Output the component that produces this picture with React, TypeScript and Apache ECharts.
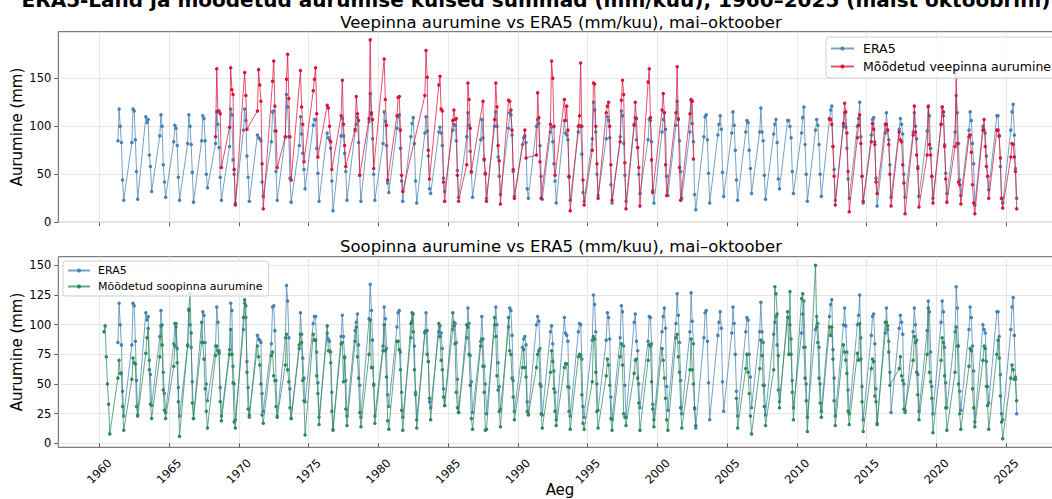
import React, { useEffect, useRef } from "react";
import * as echarts from "echarts";

const FIRST_YEAR = 1960;
const MONTHS = [5, 6, 7, 8, 9, 10];
const X_TICKS = [1960, 1965, 1970, 1975, 1980, 1985, 1990, 1995, 2000, 2005, 2010, 2015, 2020, 2025];
const TOP_Y_TICKS = [0, 50, 100, 150];
const BOTTOM_Y_TICKS = [0, 25, 50, 75, 100, 125, 150];

const SUPTITLE = "ERA5-Land ja mõõdetud aurumise kuised summad (mm/kuu), 1960–2025 (maist oktoobrini)";
const TITLE_TOP = "Veepinna aurumine vs ERA5 (mm/kuu), mai–oktoober";
const TITLE_BOTTOM = "Soopinna aurumine vs ERA5 (mm/kuu), mai–oktoober";
const NAME_ERA5 = "ERA5";
const NAME_WATER = "Mõõdetud veepinna aurumine";
const NAME_BOG = "Mõõdetud soopinna aurumine";

// May..Oct per year, 1960..2025
const ERA5: (number | null)[] = [
  null, null, null, null, null, null, // 1960
  85, 118, 100, 83, 44, 23, // 1961
  83, 118, 116, 86, 53, 24,
  110, 104, 107, 70, 58, 32,
  90, 112, 100, 60, 42, 26,
  84, 101, 98, 80, 47, 23, // 1965
  82, 112, 100, 81, 52, 21,
  85, 111, 108, 85, 50, 36,
  82, 115, 102, 78, 47, 23,
  79, 118, 112, 65, 50, 20,
  96, 118, 106, 69, 47, 22, // 1970
  91, 88, 87, 85, 42, 27,
  84, 115, 116, 95, 53, 23,
  89, 133, 120, 89, 46, 21,
  80, 110, 92, 72, 55, 35,
  101, 107, 107, 77, 51, 22, // 1975
  93, 88, 86, 77, 43, 12,
  90, 108, 90, 72, 53, 23,
  95, 102, 109, 83, 49, 22,
  105, 134, 112, 87, 50, 23,
  82, 115, 105, 80, 41, 31, // 1980
  98, 110, 112, 77, 43, 22,
  89, 103, 109, 82, 43, 20,
  93, 110, 95, 69, 35, 30,
  94, 99, 93, 80, 46, 32,
  96, 102, 101, 85, 54, 26, // 1985
  89, 114, 101, 74, 52, 26,
  86, 107, 88, 65, 50, 25,
  100, 115, 100, 68, 48, 29,
  98, 114, 112, 91, 53, 27,
  81, 88, 90, 83, 35, 25, // 1990
  100, 107, 103, 80, 48, 24,
  94, 99, 84, 61, 43, 20,
  106, 93, 91, 86, 47, 23,
  94, 101, 100, 71, 31, 22,
  87, 125, 117, 94, 50, 28, // 1995
  87, 110, 106, 88, 39, 20,
  89, 116, 111, 82, 49, 22,
  102, 109, 86, 78, 50, 30,
  86, 107, 106, 84, 33, 20,
  94, 107, 114, 97, 48, 28, // 2000
  101, 126, 108, 85, 53, 25,
  94, 127, 103, 84, 29, 13,
  89, 110, 112, 86, 51, 20,
  91, 102, 111, 97, 52, 27,
  93, 115, 101, 75, 44, 23, // 2005
  94, 106, 104, 75, 56, 30,
  94, 119, 94, 85, 49, 24,
  92, 102, 107, 83, 45, 35,
  106, 106, 100, 88, 53, 30,
  93, 109, 120, 81, 50, 22, // 2010
  96, 107, 101, 81, 50, 27,
  107, 117, 121, 79, 55, 23,
  100, 114, 99, 77, 45, 25,
  100, 108, 125, 89, 48, 20,
  91, 107, 109, 84, 46, 17, // 2015
  93, 114, 96, 86, 60, 26,
  97, 108, 102, 92, 50, 26,
  94, 114, 100, 87, 58, 27,
  95, 120, 111, 77, 48, 25,
  102, 120, 111, 81, 51, 30, // 2020
  94, 132, 114, 82, 44, 28,
  96, 115, 106, 82, 61, 18,
  100, 96, 93, 69, 48, 34,
  111, 111, 90, 58, 25, 20,
  96, 115, 123, 91, 56, 25, // 2025
];

const WATER: (number | null)[] = [
  null, null, null, null, null, null, // 1960
  null, null, null, null, null, null,
  null, null, null, null, null, null,
  null, null, null, null, null, null,
  null, null, null, null, null, null,
  null, null, null, null, null, null, // 1965
  null, null, null, null, null, null,
  null, null, null, null, null, null,
  89, 160, 116, 116, 113, 57, // 1968
  99, 161, 138, 133, 55, 18,
  null, 156, 132, 97, null, null, // 1970
  116, 159, 143, 126, 61, 14,
  null, 147, 168, 121, 95, 57,
  89, 149, 175, 129, 89, 44,
  null, 158, 120, 102, 63, null,
  137, 149, 161, 113, 68, null, // 1975
  122, 119, 100, 84, 55, null,
  111, 148, 102, 80, 58, null,
  97, 131, 113, 106, 49, null,
  108, 190, 114, 107, 56, null,
  null, 170, 128, 101, 44, null, // 1980
  111, 130, 131, 96, 49, 32,
  null, null, null, null, null, null,
  132, 179, 151, 75, 45, null,
  143, 152, 118, 116, 42, 22,
  106, 117, 107, 108, 49, 22, // 1985
  60, 145, 128, 98, 53, null,
  null, null, 126, 66, 51, 22,
  107, 145, 120, 80, 64, 19,
  127, 126, 117, 96, 55, 25,
  null, null, 96, 67, null, null, // 1990
  70, 135, 109, 63, 25, null,
  102, 168, 150, 100, 49, null,
  128, 106, 121, 96, 48, 12,
  100, 111, 166, 100, 44, 18,
  75, 145, 144, 100, 61, 25, // 1995
  114, 121, 125, 100, 60, 23,
  84, 127, 148, 133, 62, 14,
  101, 125, 108, 78, 57, 17,
  146, 160, 109, 65, 31, null,
  117, 134, 114, 60, 28, null, // 2000
  114, 162, 107, 57, 23, null,
  113, 128, 126, 66, null, null,
  null, null, null, null, null, null,
  null, null, null, null, null, null,
  null, null, null, null, null, null, // 2005
  null, null, null, null, null, null,
  null, null, null, null, null, null,
  null, null, null, null, null, null,
  null, null, null, null, null, null,
  null, null, null, null, null, null, // 2010
  null, null, null, null, null, null,
  108, 107, 102, 79, 48, 18,
  103, 124, 115, 93, 53, 11,
  88, 101, 112, 82, 48, 22,
  84, 103, 97, 81, 42, 30, // 2015
  102, 102, 96, 81, 50, 17,
  94, 86, 84, 60, 41, 9,
  91, 121, 94, 70, 56, 16,
  70, 121, 81, 70, 48, 20,
  102, 120, 115, 79, 45, 21, // 2020
  79, 158, 82, 42, 39, 19,
  89, 91, 73, 39, 20, 9,
  96, 107, 79, 58, 48, 25,
  96, 96, 90, 67, 25, 15,
  68, 82, 81, 68, 53, 14, // 2025
];

const BOG: (number | null)[] = [
  94, 99, 73, 50, 33, 8, // 1960
  55, 70, 59, 59, 31, 11,
  54, 72, 68, 67, 31, 23,
  76, 89, 97, 62, 33, 21,
  73, 99, 83, 45, 28, 21,
  65, 82, 101, 68, 35, 6, // 1965
  83, 113, 126, 93, 34, 21,
  102, 85, 71, 46, 27, 13,
  74, 82, 78, 76, 35, 19,
  75, 96, 75, 51, 18, 13,
  106, 121, 116, 60, 29, 24, // 1970
  82, 73, 66, 50, 24, 17,
  74, 77, 57, 53, 31, 22,
  66, 92, 62, 52, 30, 21,
  83, 92, 85, 53, 36, 7,
  92, 87, 87, 57, 42, 16, // 1975
  99, 78, 78, 68, 27, 11,
  84, 85, 52, 73, 29, 15,
  86, 98, 73, 55, 26, 14,
  75, 104, 64, 64, 49, 17,
  78, 100, 78, 56, 19, 12, // 1980
  86, 86, 79, 62, 28, 11,
  101, 110, 94, 62, 41, 13,
  94, 95, 75, 69, 38, 20,
  101, 90, 70, 62, 39, 32,
  110, 99, 84, 43, 30, 26, // 1985
  100, 98, 75, 49, 21, 12,
  82, 88, 65, 43, 11, 12,
  106, 90, 57, 45, 27, 14,
  106, 78, 75, 55, 39, 20,
  64, 79, 64, 56, 27, 24, // 1990
  64, 75, 78, 50, 25, 13,
  60, 78, 69, 46, 27, 15,
  64, 67, 67, 48, 27, 12,
  73, 75, 74, 41, 17, 12,
  52, 90, 88, 60, 27, 13, // 1995
  57, 71, 66, 49, 21, 11,
  73, 84, 66, 25, 22, 15,
  59, 70, 71, 55, 34, 11,
  70, 83, 82, 52, 29, 14,
  80, 70, 55, 38, 20, 11, // 2000
  89, 92, 73, 60, 30, 13,
  62, 88, 62, 50, 30, 15,
  null, null, null, null, null, null,
  null, null, null, null, null, null,
  null, null, null, null, 38, 13, // 2005
  63, 75, 60, 42, 23, 8,
  63, 87, 74, 49, 31, 15,
  62, 132, 126, 109, 74, 30,
  111, 75, 128, 75, 43, 20,
  122, 126, 81, 55, 36, 10, // 2010
  150, 98, 85, 55, 34, 22,
  98, 91, 98, 71, 36, 15,
  83, 77, 70, 59, 27, 16,
  76, 70, 101, 71, 35, 10,
  63, 71, 69, 40, 35, 16, // 2015
  102, 102, 99, 77, 49, null,
  63, 73, 57, 53, 29, 28,
  70, 90, 85, 60, 41, 20,
  75, 114, 60, 52, 38, 9,
  70, 89, 85, 57, 30, 11, // 2020
  60, 98, 82, 50, 25, 12,
  65, 80, 78, 46, 30, 14,
  70, 82, 80, 48, 32, 12,
  75, 87, 72, 40, 18, 4,
  55, 66, 62, 54, 54, 36, // 2025
];

const C_ERA5 = "#4682b4";
const C_WATER = "#dc143c";
const C_BOG = "#2e8b57";
const FONT = '"DejaVu Sans", sans-serif';

// Points from the table; a run of two or more empty years breaks the line.
function toPoints(vals: (number | null)[]) {
  const n = MONTHS.length;
  const years = Math.floor(vals.length / n);
  const out: (number | string)[][] = [];
  let emptyRun = 0;
  for (let yi = 0; yi < years; yi++) {
    const row = vals.slice(yi * n, yi * n + n);
    const year = FIRST_YEAR + yi;
    if (row.every((v) => v === null)) {
      emptyRun++;
      continue;
    }
    if (emptyRun >= 2 && out.length > 0) out.push([year, "-"]);
    emptyRun = 0;
    row.forEach((v, j) => {
      if (v === null) return;
      out.push([year + (MONTHS[j] - 1) / 12, v]);
    });
  }
  return out;
}

export default function App() {
  const ref = useRef<HTMLDivElement>(null);
  useEffect(() => {
    if (!ref.current) return;
    document.body.style.overflow = "hidden";
    const chart = echarts.init(ref.current, undefined, { renderer: "svg" });
    const gridLeft = 58.3;
    const gridW = 1003.7;
    const gridLineStyle = { color: "#e6e6e6", width: 1, type: "solid" as const };

    const xAxisBase = (gi: number, showLabel: boolean) => ({
      type: "value",
      gridIndex: gi,
      min: 1957.06,
      max: 2029.0,
      axisLine: { show: false },
      splitLine: { show: false },
      axisTick: { show: true, customValues: X_TICKS, length: 4, lineStyle: { color: "#333", width: 0.8 } },
      axisLabel: {
        show: showLabel,
        customValues: X_TICKS,
        rotate: 45,
        align: "center",
        verticalAlign: "middle",
        margin: 24,
        formatter: (v: number) => String(Math.round(v)),
        fontSize: 11.5,
        color: "#000",
        fontFamily: FONT,
      },
    });

    const lineSeries = (name: string, data: (number | string)[][], color: string, gi: number, z: number) => ({
      name,
      type: "line",
      xAxisIndex: gi,
      yAxisIndex: gi,
      data,
      z,
      connectNulls: false,
      symbol: "circle",
      symbolSize: 3.5,
      showSymbol: true,
      lineStyle: { color, width: 1, opacity: 0.75 },
      itemStyle: { color },
      emphasis: { disabled: true },
    });

    const gridSeries = (gi: number, yTicks: number[]) => ({
      type: "line",
      xAxisIndex: gi,
      yAxisIndex: gi,
      data: [],
      z: 0,
      silent: true,
      markLine: {
        z: 0,
        silent: true,
        symbol: ["none", "none"],
        label: { show: false },
        emphasis: { disabled: true },
        lineStyle: gridLineStyle,
        data: [
          ...X_TICKS.map((v) => ({ xAxis: v })),
          ...yTicks.map((v) => ({ yAxis: v })),
        ],
      },
    });

    const legendBase = {
      orient: "vertical",
      selectedMode: false,
      backgroundColor: "rgba(255,255,255,0.8)",
      borderColor: "#d0d0d0",
      borderWidth: 1,
      borderRadius: 3,
      itemHeight: 5,
    };

    chart.setOption({
      animation: false,
      backgroundColor: "#ffffff",
      grid: [
        { left: gridLeft, top: 31.7, width: gridW, height: 190.6, show: true, borderColor: "#333", borderWidth: 0.8, backgroundColor: "transparent" },
        { left: gridLeft, top: 256.7, width: gridW, height: 190.6, show: true, borderColor: "#333", borderWidth: 0.8, backgroundColor: "transparent" },
      ],
      xAxis: [xAxisBase(0, false), xAxisBase(1, true)],
      yAxis: [
        {
          type: "value",
          gridIndex: 0,
          min: 0,
          max: 198.5,
          axisLine: { show: false },
          splitLine: { show: false },
          axisTick: { show: true, customValues: TOP_Y_TICKS, length: 4, lineStyle: { color: "#333", width: 0.8 } },
          axisLabel: { customValues: TOP_Y_TICKS, margin: 7, fontSize: 11.5, color: "#000", fontFamily: FONT },
        },
        {
          type: "value",
          gridIndex: 1,
          min: -3.3,
          max: 157.3,
          axisLine: { show: false },
          splitLine: { show: false },
          axisTick: { show: true, customValues: BOTTOM_Y_TICKS, length: 4, lineStyle: { color: "#333", width: 0.8 } },
          axisLabel: { customValues: BOTTOM_Y_TICKS, margin: 7, fontSize: 11.5, color: "#000", fontFamily: FONT },
        },
      ],
      legend: [
        {
          ...legendBase,
          left: 826,
          top: 37,
          padding: [5, 5, 5, 4],
          itemWidth: 23,
          itemGap: 5,
          textStyle: { fontSize: 12.5, color: "#000", fontFamily: FONT, padding: [0, 0, 0, 4] },
          data: [NAME_ERA5, NAME_WATER],
        },
        {
          ...legendBase,
          left: 63,
          top: 261,
          padding: [4, 6, 4, 4],
          itemWidth: 22,
          itemGap: 5,
          textStyle: { fontSize: 11, color: "#000", fontFamily: FONT, padding: [0, 0, 0, 3] },
          data: [NAME_ERA5, NAME_BOG],
        },
      ],
      graphic: [
        { type: "text", x: 536, y: 0, style: { text: SUPTITLE, font: `bold 20px ${FONT}`, fill: "#000", align: "center", verticalAlign: "middle" } },
        { type: "text", x: 561, y: 22, style: { text: TITLE_TOP, font: `16.5px ${FONT}`, fill: "#000", align: "center", verticalAlign: "middle" } },
        { type: "text", x: 561, y: 246, style: { text: TITLE_BOTTOM, font: `16.5px ${FONT}`, fill: "#000", align: "center", verticalAlign: "middle" } },
        { type: "text", x: 17, y: 127, rotation: Math.PI / 2, style: { text: "Aurumine (mm)", font: `15px ${FONT}`, fill: "#000", align: "center", verticalAlign: "middle" } },
        { type: "text", x: 17, y: 352, rotation: Math.PI / 2, style: { text: "Aurumine (mm)", font: `15px ${FONT}`, fill: "#000", align: "center", verticalAlign: "middle" } },
        { type: "text", x: 560, y: 490, style: { text: "Aeg", font: `15px ${FONT}`, fill: "#000", align: "center", verticalAlign: "middle" } },
      ],
      series: [
        gridSeries(0, TOP_Y_TICKS),
        gridSeries(1, BOTTOM_Y_TICKS),
        lineSeries(NAME_ERA5, toPoints(ERA5), C_ERA5, 0, 2),
        lineSeries(NAME_WATER, toPoints(WATER), C_WATER, 0, 3),
        lineSeries(NAME_ERA5, toPoints(ERA5), C_ERA5, 1, 2),
        lineSeries(NAME_BOG, toPoints(BOG), C_BOG, 1, 3),
      ],
    });
    return () => chart.dispose();
  }, []);

  return (
    <div style={{ position: "fixed", left: 0, top: 0, width: 1052, height: 499, overflow: "hidden", background: "#fff" }}>
      <div ref={ref} style={{ width: 1075, height: 499 }} />
    </div>
  );
}
